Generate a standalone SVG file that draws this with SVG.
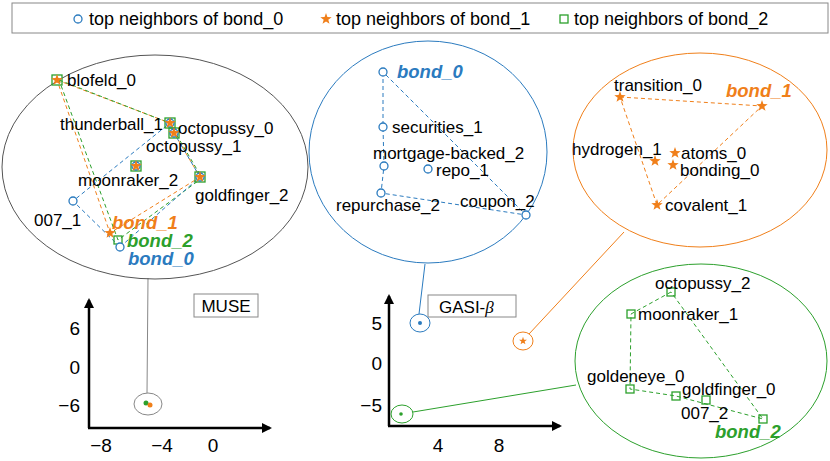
<svg xmlns="http://www.w3.org/2000/svg" width="830" height="461" viewBox="0 0 830 461">
<style>
text{font-family:"Liberation Sans",Arial,sans-serif;font-size:17px;fill:#000}
.lg{font-size:18px}
.bi{font-weight:bold;font-style:italic;font-size:18.5px}
.b{fill:#2b7bbf}.o{fill:#f07f1a}.g{fill:#2ca02c}
.cb{fill:#fff;stroke:#2b7bbf;stroke-width:1.3}
.sg{fill:none;stroke:#2ca02c;stroke-width:1.3}
.dB{stroke:#2b7bbf;stroke-dasharray:4,3;fill:none}
.dO{stroke:#f07f1a;stroke-dasharray:4,3;fill:none}
.dG{stroke:#2ca02c;stroke-dasharray:4,3;fill:none}
.ax{stroke:#000;stroke-width:2.5}
.tk{font-size:19px}
</style>
<defs>
<path id="st" d="M0,-6 L1.4,-1.9 L5.7,-1.8 L2.3,0.7 L3.5,4.8 L0,2.4 L-3.5,4.8 L-2.3,0.7 L-5.7,-1.8 L-1.4,-1.9Z" fill="#f07f1a"/>
<marker id="ar" markerWidth="10" markerHeight="10" refX="8" refY="5" orient="auto" markerUnits="userSpaceOnUse"><path d="M0,0 L10,5 L0,10Z" fill="#000"/></marker>
</defs>
<g id="legend">
<rect x="12" y="3" width="816" height="30" fill="#fff" stroke="#888"/>
<circle cx="78" cy="19" r="4" class="cb"/>
<text x="89" y="25" class="lg">top neighbors of bond_0</text>
<use href="#st" x="326" y="19"/>
<text x="336" y="25" class="lg">top neighbors of bond_1</text>
<rect x="560" y="15" width="8" height="8" class="sg"/>
<text x="574" y="25" class="lg">top neighbors of bond_2</text>
</g>
<g id="connectors">
<line x1="148" y1="278" x2="147" y2="393" stroke="#888"/>
<line x1="425" y1="264" x2="419" y2="314" stroke="#2b7bbf"/>
<line x1="624" y1="232" x2="529" y2="334" stroke="#f07f1a"/>
<line x1="413" y1="412" x2="576" y2="385" stroke="#2ca02c"/>
</g>
<g id="muse-zoom">
<ellipse cx="155" cy="167" rx="153" ry="112" fill="none" stroke="#555"/>
<polyline class="dO" points="57,80 170,123 174,133 200,177 110,233 57,80"/>
<polyline class="dG" points="59,80 172,124 176,134 202,178 118,240 59,80"/>
<polyline class="dB" points="120,247 73,201 170,123"/>
<line class="dB" x1="120" y1="247" x2="200" y2="177"/>
<line class="dB" x1="200" y1="177" x2="174" y2="133"/>
<g><rect x="52" y="75" width="10" height="10" class="sg"/><use href="#st" x="57" y="80"/><text x="67" y="86">blofeld_0</text></g>
<g><rect x="165" y="118" width="10" height="10" class="sg"/><circle cx="170" cy="123" r="4" class="cb"/><use href="#st" x="170" y="123"/><text x="163" y="130" text-anchor="end">thunderball_1</text></g>
<g><rect x="169" y="128" width="10" height="10" class="sg"/><circle cx="174" cy="133" r="4" class="cb"/><use href="#st" x="174" y="133"/><text x="178" y="134">octopussy_0</text></g>
<text x="146" y="152">octopussy_1</text>
<g><rect x="131" y="161" width="10" height="10" class="sg"/><circle cx="136" cy="166" r="4" class="cb"/><use href="#st" x="136" y="166"/><text x="78" y="186">moonraker_2</text></g>
<g><rect x="195" y="172" width="10" height="10" class="sg"/><circle cx="200" cy="177" r="4" class="cb"/><use href="#st" x="200" y="177"/><text x="195" y="201">goldfinger_2</text></g>
<g><circle cx="73" cy="201" r="4" class="cb"/><text x="34" y="226">007_1</text></g>
<g><use href="#st" x="110" y="233"/><text x="112" y="229" class="bi o">bond_1</text></g>
<g><rect x="114" y="236" width="8" height="8" class="sg"/><text x="127" y="247" class="bi g">bond_2</text></g>
<g><circle cx="120" cy="247" r="4" class="cb"/><text x="128" y="265" class="bi b">bond_0</text></g>
</g>
<g id="muse-plot">
<line class="ax" x1="89" y1="428" x2="89" y2="300" marker-end="url(#ar)"/>
<line class="ax" x1="88" y1="428" x2="270" y2="428" marker-end="url(#ar)"/>
<text x="80" y="335" class="tk" text-anchor="end">6</text>
<text x="80" y="374" class="tk" text-anchor="end">0</text>
<text x="80" y="412" class="tk" text-anchor="end">−6</text>
<text x="101" y="452" class="tk" text-anchor="middle">−8</text>
<text x="162" y="452" class="tk" text-anchor="middle">−4</text>
<text x="213" y="452" class="tk" text-anchor="middle">0</text>
<rect x="194" y="294" width="64" height="23" fill="#fff" stroke="#888"/>
<text x="226" y="312" text-anchor="middle">MUSE</text>
<ellipse cx="148" cy="404" rx="14" ry="11" fill="none" stroke="#888"/>
<circle cx="146" cy="403" r="2.5" fill="#2ca02c"/><circle cx="150" cy="405" r="2.5" fill="#f07f1a"/>
</g>
<g id="gasi-bond0">
<ellipse cx="428" cy="152" rx="119" ry="111" fill="none" stroke="#2b7bbf"/>
<polyline class="dB" points="383,72 383,127 384,166 381,193 526,215 383,72"/>
<g><circle cx="383" cy="72" r="4" class="cb"/><text x="397" y="78" class="bi b">bond_0</text></g>
<g><circle cx="383" cy="127" r="4" class="cb"/><text x="392" y="133">securities_1</text></g>
<g><circle cx="384" cy="166" r="4" class="cb"/><text x="373" y="159">mortgage-backed_2</text></g>
<g><circle cx="428" cy="169" r="4" class="cb"/><text x="436" y="176">repo_1</text></g>
<g><circle cx="381" cy="193" r="4" class="cb"/><text x="336" y="211">repurchase_2</text></g>
<g><circle cx="526" cy="215" r="4" class="cb"/><text x="460" y="207">coupon_2</text></g>
</g>
<g id="gasi-bond1">
<ellipse cx="700" cy="150" rx="127" ry="97" fill="none" stroke="#f07f1a"/>
<polyline class="dO" points="620,97 762,106 657,205 620,97"/>
<g><use href="#st" x="620" y="97"/><text x="614" y="91">transition_0</text></g>
<g><use href="#st" x="762" y="106"/><text x="726" y="97" class="bi o">bond_1</text></g>
<g><use href="#st" x="655" y="161"/><text x="572" y="155">hydrogen_1</text></g>
<g><use href="#st" x="675" y="153"/><text x="681" y="159">atoms_0</text></g>
<g><use href="#st" x="673" y="165"/><text x="680" y="176">bonding_0</text></g>
<g><use href="#st" x="657" y="205"/><text x="665" y="211">covalent_1</text></g>
</g>
<g id="gasi-bond2">
<ellipse cx="701" cy="361" rx="126" ry="97" fill="none" stroke="#2ca02c"/>
<polyline class="dG" points="671,292 631,314 630,389 676,396 763,419 671,292"/>
<g><rect x="667" y="288" width="8" height="8" class="sg"/><text x="655" y="289">octopussy_2</text></g>
<g><rect x="627" y="310" width="8" height="8" class="sg"/><text x="638" y="320">moonraker_1</text></g>
<g><rect x="626" y="385" width="8" height="8" class="sg"/><text x="587" y="382">goldeneye_0</text></g>
<g><rect x="672" y="392" width="8" height="8" class="sg"/><text x="682" y="395">goldfinger_0</text></g>
<g><rect x="702" y="396" width="8" height="8" class="sg"/><text x="681" y="419">007_2</text></g>
<g><rect x="759" y="415" width="8" height="8" class="sg"/><text x="715" y="438" class="bi g">bond_2</text></g>
</g>
<g id="gasi-plot">
<line class="ax" x1="389" y1="426" x2="389" y2="296" marker-end="url(#ar)"/>
<line class="ax" x1="388" y1="426" x2="560" y2="426" marker-end="url(#ar)"/>
<text x="382" y="330" class="tk" text-anchor="end">5</text>
<text x="382" y="370" class="tk" text-anchor="end">0</text>
<text x="382" y="412" class="tk" text-anchor="end">−5</text>
<text x="438" y="452" class="tk" text-anchor="middle">4</text>
<text x="499" y="452" class="tk" text-anchor="middle">8</text>
<rect x="428" y="295" width="88" height="22" fill="#fff" stroke="#888"/>
<text x="439" y="313">GASI-<tspan font-family="'Liberation Serif',serif" font-style="italic">β</tspan></text>
<ellipse cx="420" cy="323" rx="10" ry="9" fill="none" stroke="#2b7bbf"/>
<circle cx="420" cy="323" r="2" fill="#2b7bbf"/>
<ellipse cx="523" cy="341" rx="10" ry="9" fill="none" stroke="#f07f1a"/>
<use href="#st" x="523" y="341" transform="translate(523 341) scale(0.7) translate(-523 -341)"/>
<ellipse cx="402" cy="414" rx="11" ry="9" fill="none" stroke="#2ca02c"/>
<circle cx="401" cy="414" r="1.8" fill="#2ca02c"/>
</g>
</svg>
